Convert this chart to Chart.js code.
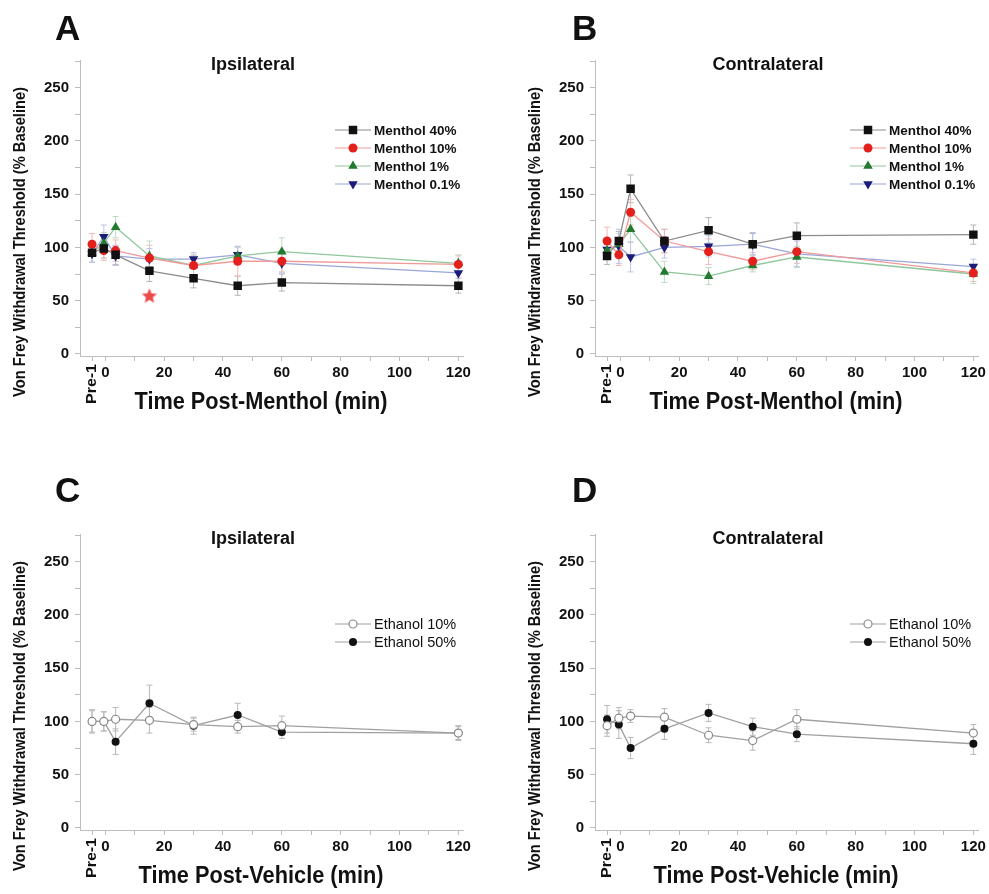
<!DOCTYPE html>
<html>
<head>
<meta charset="utf-8">
<script src="https://cdn.jsdelivr.net/npm/chart.js@4.4.0/dist/chart.umd.min.js"></script>
<style>
  body { margin: 0; background: #fff; width: 989px; height: 894px; position: relative; overflow: hidden; }
  .panel { position: absolute; width: 474px; height: 420px; }
</style>
</head>
<body>
<div class="panel" style="left:0;top:0"><canvas id="panelA" width="474" height="420"></canvas></div>
<div class="panel" style="left:515px;top:0"><canvas id="panelB" width="474" height="420"></canvas></div>
<div class="panel" style="left:0;top:474px"><canvas id="panelC" width="474" height="420"></canvas></div>
<div class="panel" style="left:515px;top:474px"><canvas id="panelD" width="474" height="420"></canvas></div>
<script>
"use strict"

// time points (min), first one is the "Pre-1" baseline
let times = [-4.5, -0.5, 3.5, 15, 30, 45, 60, 120];
let xTickLabels = [0, 20, 40, 60, 80, 100, 120];
let yTickLabels = [0, 50, 100, 150, 200, 250];

// A - ipsilateral, menthol
let ipsi40 = [95, 99, 93, 78, 71, 64, 67, 64];
let ipsi10 = [103, 97, 97, 90, 83, 87, 87, 84];
let ipsi1 = [95, 104, 119, 92, 83, 92, 96, 85];
let ipsi01 = [94, 110, 92, 89, 89, 93, 85, 76];
let ipsi40Err = [9, 9, 9, 10, 9, 9, 8, 7];
let ipsi10Err = [10, 9, 10, 12, 10, 14, 10, 8];
let ipsi1Err = [9, 10, 10, 14, 9, 8, 13, 8];
let ipsi01Err = [8, 11, 9, 10, 6, 8, 9, 9];
let ipsiSig = [{x: 15, y: 54}]; // red star

// B - contralateral, menthol
let contra40 = [92, 106, 155, 106, 116, 103, 111, 112];
let contra10 = [106, 93, 133, 106, 96, 87, 96, 76];
let contra1 = [97, 103, 117, 77, 73, 83, 91, 75];
let contra01 = [98, 101, 91, 100, 101, 103, 94, 82];
let contra40Err = [8, 9, 13, 11, 12, 10, 12, 9];
let contra10Err = [13, 10, 12, 11, 12, 8, 11, 8];
let contra1Err = [8, 10, 12, 10, 8, 6, 10, 9];
let contra01Err = [9, 16, 14, 10, 10, 11, 12, 7];

// C - ipsilateral, vehicle
let ipsiEth10 = [100, 100, 102, 101, 97, 95, 96, 89];
let ipsiEth50 = [100, 100, 81, 117, 96, 106, 90, 89];
let ipsiEth10Err = [10, 9, 11, 12, 6, 6, 9, 7];
let ipsiEth50Err = [11, 9, 12, 17, 8, 11, 6, 6];

// D - contralateral, vehicle
let contraEth10 = [96, 103, 105, 104, 87, 82, 102, 89];
let contraEth50 = [102, 97, 75, 93, 108, 95, 88, 79];
let contraEth10Err = [10, 10, 6, 8, 7, 9, 9, 8];
let contraEth50Err = [13, 13, 10, 10, 8, 8, 7, 10];

const SANS = "'Liberation Sans', Arial, sans-serif";

function toPoints(values) {
    return values.map((v, i) => ({x: times[i], y: v}));
}

function starCanvas(color, r) {
    let c = document.createElement('canvas');
    c.width = c.height = 2 * r + 2;
    let g = c.getContext('2d');
    g.fillStyle = color;
    g.beginPath();
    for (let i = 0; i < 10; i++) {
        let rad = i % 2 === 0 ? r : r * 0.45;
        let a = -Math.PI / 2 + i * Math.PI / 5;
        g.lineTo(r + 1 + rad * Math.cos(a), r + 1 + rad * Math.sin(a));
    }
    g.closePath();
    g.fill();
    return c;
}

function series(label, values, errors, style) {
    return {
        label: label,
        data: toPoints(values),
        errors: errors,
        errorColor: style.err,
        borderColor: style.line,
        borderWidth: 1.3,
        pointStyle: style.shape,
        pointRotation: style.rotation || 0,
        pointRadius: style.radius,
        pointBackgroundColor: style.fill,
        pointBorderColor: style.stroke || style.fill,
        pointBorderWidth: style.stroke ? 1.2 : 0,
        tension: 0,
        fill: false
    };
}

const black = {shape: 'rect', radius: 6, fill: '#111', line: '#8c8c8c', err: '#b4b4b4'};
const red = {shape: 'circle', radius: 4.5, fill: '#e3201b', line: '#f09a9a', err: '#f4b8b8'};
const green = {shape: 'triangle', radius: 5.5, fill: '#237a2f', line: '#8fc79b', err: '#bcdcc2'};
const navy = {shape: 'triangle', rotation: 180, radius: 5.5, fill: '#1c1c78', line: '#9aa6d8', err: '#bcc3e8'};
const openC = {shape: 'circle', radius: 4, fill: '#fff', stroke: '#8a8a8a', line: '#a0a0a0', err: '#b8b8b8'};
const fillC = {shape: 'circle', radius: 4, fill: '#111', line: '#a0a0a0', err: '#b8b8b8'};

const errorBarPlugin = {
    id: 'errorBars',
    beforeDatasetsDraw(chart) {
        const {ctx, scales: {x, y}} = chart;
        chart.data.datasets.forEach(ds => {
            if (!ds.errors) return;
            ctx.save();
            ctx.strokeStyle = ds.errorColor;
            ctx.lineWidth = 1;
            ds.data.forEach((p, i) => {
                let px = x.getPixelForValue(p.x);
                let top = y.getPixelForValue(p.y + ds.errors[i]);
                let bot = y.getPixelForValue(p.y - ds.errors[i]);
                ctx.beginPath();
                ctx.moveTo(px, top); ctx.lineTo(px, bot);
                ctx.moveTo(px - 3, top); ctx.lineTo(px + 3, top);
                ctx.moveTo(px - 3, bot); ctx.lineTo(px + 3, bot);
                ctx.stroke();
            });
            ctx.restore();
        });
    }
};

// text with an optional horizontal squeeze; width > 0 fits it to that width
function drawText(ctx, text, x, y, font, width, angle, align) {
    ctx.save();
    ctx.translate(x, y);
    ctx.rotate(angle || 0);
    ctx.font = font;
    ctx.textAlign = align || 'center';
    ctx.textBaseline = 'middle';
    if (width) ctx.scale(width / ctx.measureText(text).width, 1);
    ctx.fillText(text, 0, 0);
    ctx.restore();
}

// letters, titles, legend and the rotated "Pre-1" label
const decorPlugin = {
    id: 'decor',
    afterDraw(chart) {
        const o = chart.options.plugins.decor;
        const {ctx, scales: {x}} = chart;
        ctx.save();
        ctx.fillStyle = '#111';
        ctx.textBaseline = 'alphabetic';
        ctx.textAlign = 'left';
        ctx.font = 'bold 35px ' + SANS;
        ctx.fillText(o.letter, o.letterX, o.letterY);

        drawText(ctx, o.title, 253, 65, 'bold 18px ' + SANS);
        drawText(ctx, o.xTitle, 261, 402, 'bold 24px ' + SANS, o.xTitleW);
        drawText(ctx, 'Von Frey Withdrawal Threshold (% Baseline)', 21, 242, 'bold 16px ' + SANS, 310, -Math.PI / 2);
        drawText(ctx, 'Pre-1', x.getPixelForValue(times[0]), 384, 'bold 15px ' + SANS, 40, -Math.PI / 2);

        // legend
        let row = 0;
        chart.data.datasets.forEach(ds => {
            if (!ds.errors) return;
            let ly = o.legendY + row * 18;
            ctx.strokeStyle = ds.borderColor;
            ctx.lineWidth = 1.2;
            ctx.beginPath();
            ctx.moveTo(335, ly); ctx.lineTo(371, ly);
            ctx.stroke();
            ctx.fillStyle = ds.pointBackgroundColor;
            ctx.strokeStyle = ds.pointBorderColor;
            Chart.helpers.drawPoint(ctx, {
                pointStyle: ds.pointStyle,
                rotation: ds.pointRotation,
                radius: ds.pointRadius,
                borderWidth: ds.pointBorderWidth
            }, 353, ly);
            ctx.fillStyle = '#111';
            drawText(ctx, ds.label, 374, ly + 1, o.legendFont, 0, 0, 'left');
            row++;
        });
        ctx.restore();
    }
};

function makePanel(id, datasets, decor) {
    const axisGrey = '#bdbdbd';
    const tickFont = {family: SANS, size: 15, weight: 'bold'};
    return new Chart(document.getElementById(id), {
        type: 'line',
        data: {datasets: datasets},
        options: {
            responsive: false,
            animation: false,
            events: [],
            layout: {padding: {left: 40, right: 9, top: 60, bottom: 34}},
            plugins: {
                legend: {display: false},
                title: {display: false},
                tooltip: {enabled: false},
                decor: decor
            },
            scales: {
                x: {
                    type: 'linear',
                    min: -8.6,
                    max: 121.7,
                    afterBuildTicks: s => {
                        s.ticks = [times[0], 0, 10, 20, 30, 40, 50, 60, 70, 80, 90, 100, 110, 120].map(v => ({value: v}));
                    },
                    afterFit: s => { s.height = 30; },
                    border: {color: axisGrey, width: 1},
                    grid: {drawOnChartArea: false, tickLength: 5, color: axisGrey},
                    ticks: {
                        autoSkip: false,
                        maxRotation: 0,
                        padding: 3,
                        color: '#111',
                        font: tickFont,
                        callback: v => xTickLabels.includes(v) ? String(v) : ''
                    }
                },
                y: {
                    min: -2,
                    max: 276,
                    afterBuildTicks: s => {
                        s.ticks = [0, 25, 50, 75, 100, 125, 150, 175, 200, 225, 250, 275].map(v => ({value: v}));
                    },
                    afterFit: s => { s.width = 40; },
                    border: {color: axisGrey, width: 1},
                    grid: {drawOnChartArea: false, tickLength: 5, color: axisGrey},
                    ticks: {
                        autoSkip: false,
                        padding: 6,
                        color: '#111',
                        font: tickFont,
                        callback: v => yTickLabels.includes(v) ? String(v) : ''
                    }
                }
            }
        },
        plugins: [errorBarPlugin, decorPlugin]
    });
}

let mentholFont = 'bold 13.5px ' + SANS;
let ethanolFont = '14.5px ' + SANS;

makePanel('panelA', [
    series('Menthol 40%', ipsi40, ipsi40Err, black),
    series('Menthol 10%', ipsi10, ipsi10Err, red),
    series('Menthol 1%', ipsi1, ipsi1Err, green),
    series('Menthol 0.1%', ipsi01, ipsi01Err, navy),
    {
        label: 'significant',
        data: ipsiSig,
        showLine: false,
        pointStyle: starCanvas('#ee4a4a', 8),
        pointRadius: 8
    }
], {letter: 'A', letterX: 55, letterY: 40, title: 'Ipsilateral', xTitle: 'Time Post-Menthol (min)', xTitleW: 253,
    legendY: 130, legendFont: mentholFont});

makePanel('panelB', [
    series('Menthol 40%', contra40, contra40Err, black),
    series('Menthol 10%', contra10, contra10Err, red),
    series('Menthol 1%', contra1, contra1Err, green),
    series('Menthol 0.1%', contra01, contra01Err, navy)
], {letter: 'B', letterX: 57, letterY: 40, title: 'Contralateral', xTitle: 'Time Post-Menthol (min)', xTitleW: 253,
    legendY: 130, legendFont: mentholFont});

makePanel('panelC', [
    series('Ethanol 10%', ipsiEth10, ipsiEth10Err, openC),
    series('Ethanol 50%', ipsiEth50, ipsiEth50Err, fillC)
], {letter: 'C', letterX: 55, letterY: 28, title: 'Ipsilateral', xTitle: 'Time Post-Vehicle (min)', xTitleW: 245,
    legendY: 150, legendFont: ethanolFont});

makePanel('panelD', [
    series('Ethanol 10%', contraEth10, contraEth10Err, openC),
    series('Ethanol 50%', contraEth50, contraEth50Err, fillC)
], {letter: 'D', letterX: 57, letterY: 28, title: 'Contralateral', xTitle: 'Time Post-Vehicle (min)', xTitleW: 245,
    legendY: 150, legendFont: ethanolFont});
</script>
</body>
</html>
